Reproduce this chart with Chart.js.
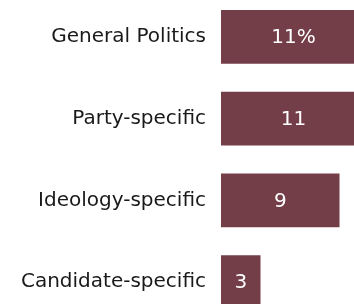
<!DOCTYPE html>
<html>
<head>
<meta charset="utf-8">
<script src="https://cdn.jsdelivr.net/npm/chart.js@4"></script>
<style>
  html, body { margin: 0; padding: 0; background: #ffffff; overflow: hidden; width: 354px; height: 304px; }
  #c { position: absolute; left: 0; top: -4px; width: 354px; height: 327px; }
</style>
</head>
<body>
<canvas id="c" width="354" height="327"></canvas>
<script>
const categories = ["General Politics", "Party-specific", "Ideology-specific", "Candidate-specific"];
const values = [11, 11, 9, 3];
const valueLabels = ["11%", "11", "9", "3"];

const barColor = "#743e48";
const fontFamily = "'DejaVu Sans', sans-serif";

const valueLabelPlugin = {
  id: "valueLabels",
  afterDatasetsDraw(chart) {
    const ctx = chart.ctx;
    const meta = chart.getDatasetMeta(0);
    ctx.save();
    ctx.fillStyle = "#ffffff";
    ctx.font = "20px " + fontFamily;
    ctx.textAlign = "center";
    ctx.textBaseline = "middle";
    meta.data.forEach((bar, i) => {
      const cx = (bar.x + bar.base) / 2;
      ctx.fillText(valueLabels[i], cx, bar.y + 1);
    });
    ctx.restore();
  }
};

new Chart(document.getElementById("c"), {
  type: "bar",
  data: {
    labels: categories,
    datasets: [{
      data: values,
      backgroundColor: barColor,
      borderWidth: 0,
      barPercentage: 0.66,
      categoryPercentage: 1
    }]
  },
  options: {
    indexAxis: "y",
    responsive: false,
    maintainAspectRatio: false,
    animation: false,
    layout: { padding: 0 },
    plugins: {
      legend: { display: false },
      tooltip: { enabled: false }
    },
    scales: {
      x: {
        display: false,
        min: 0,
        max: 10.1
      },
      y: {
        grid: { display: false, drawTicks: false },
        border: { display: false },
        ticks: {
          color: "#1a1a1a",
          padding: 15,
          font: { family: fontFamily, size: 20 }
        },
        afterFit(scale) {
          scale.width = 221;
          scale.paddingTop = 0;
          scale.paddingBottom = 0;
        }
      }
    }
  },
  plugins: [valueLabelPlugin]
});
</script>
</body>
</html>
